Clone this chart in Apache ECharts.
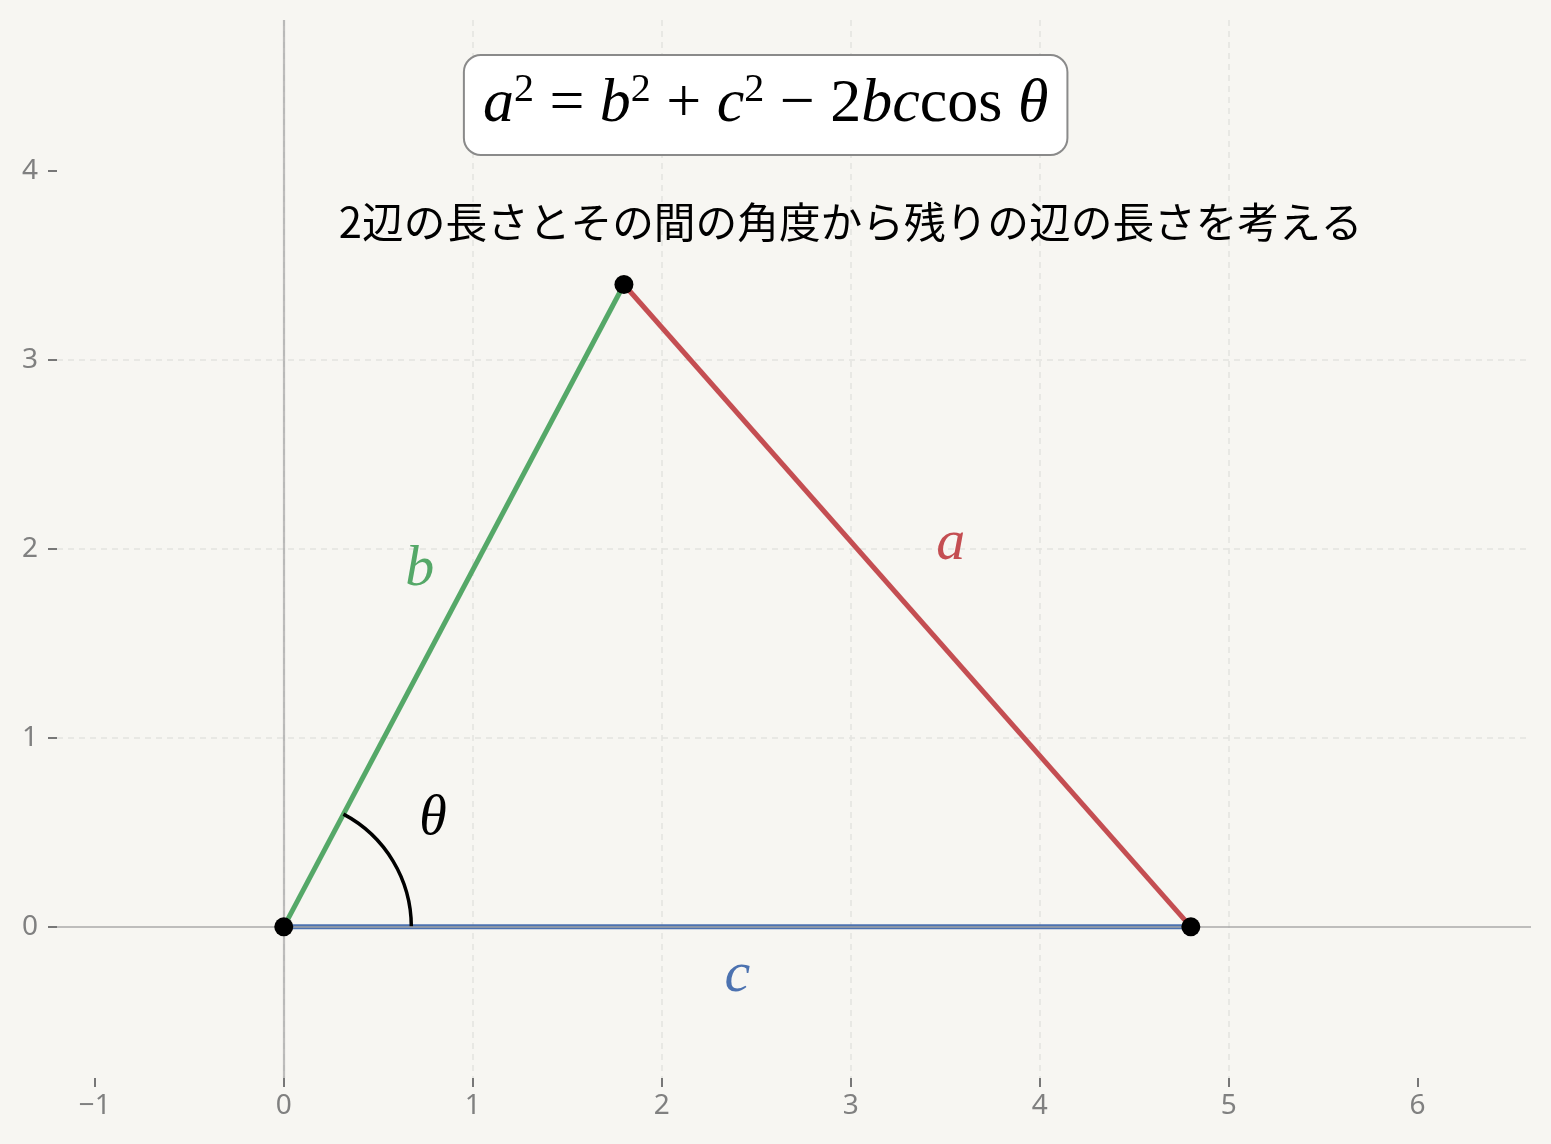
<!DOCTYPE html>
<html><head><meta charset="utf-8">
<script src="https://cdn.jsdelivr.net/npm/echarts@6/dist/echarts.min.js"></script>
<style>html,body{margin:0;padding:0;background:#f7f6f2}#chart{width:1551px;height:1144px}</style>
</head><body><div id="chart"></div>
<script>
// ---- data ----
const pointA = [0, 0];
const pointB = [1.8, 3.4];
const pointC = [4.8, 0];
const xTicks = [-1, 0, 1, 2, 3, 4, 5, 6];
const yTicks = [0, 1, 2, 3, 4];
const xRange = [-1.2, 6.6];
const yRange = [-0.8, 4.8];
const labelAPos = [3.53, 2.03];
const labelBPos = [0.72, 1.89];
const labelCPos = [2.40, -0.26];
const labelThetaPos = [0.79, 0.57];
const arcRadius = 0.675;
const subtitlePos = [3.0, 3.73];
const subtitleText = '2辺の長さとその間の角度から残りの辺の長さを考える';
const formulaPos = [2.55, 4.35];

const theta = Math.atan2(pointB[1] - pointA[1], pointB[0] - pointA[0]);
const mathFont = 'Liberation Serif';
const fmt = v => String(v).replace('-', '\u2212');

const chart = echarts.init(document.getElementById('chart'));

function textPoint(pos, text, labelStyle) {
  return { value: pos, label: Object.assign({ show: true, position: 'inside', formatter: text }, labelStyle) };
}

const splitStyle = { show: true, showMinLine: false, showMaxLine: false, lineStyle: { color: '#e4e3e0', width: 1.5, type: [6, 5] } };

const option = {
  backgroundColor: '#f7f6f2',
  animation: false,
  grid: { left: 57, right: 20, top: 20, bottom: 66, containLabel: false },
  xAxis: {
    type: 'value', min: xRange[0], max: xRange[1],
    axisLine: { show: false, onZero: false },
    axisTick: { show: true, length: 9, customValues: xTicks, lineStyle: { color: '#777', width: 2 } },
    axisLabel: { customValues: xTicks, formatter: fmt, color: '#808080', fontSize: 28, fontFamily: 'Noto Sans', margin: 14 },
    splitLine: splitStyle
  },
  yAxis: {
    type: 'value', min: yRange[0], max: yRange[1],
    axisLine: { show: false, onZero: false },
    axisTick: { show: true, length: 9, customValues: yTicks, lineStyle: { color: '#777', width: 2 } },
    axisLabel: { customValues: yTicks, formatter: fmt, color: '#808080', fontSize: 28, fontFamily: 'Noto Sans', margin: 19 },
    splitLine: splitStyle
  },
  series: [
    { type: 'line', name: 'b', data: [pointA, pointB], symbol: 'none', lineStyle: { color: '#55a868', width: 5 }, z: 2 },
    { type: 'line', name: 'a', data: [pointB, pointC], symbol: 'none', lineStyle: { color: '#c44e52', width: 5 }, z: 2 },
    { type: 'line', name: 'c', data: [pointA, pointC], symbol: 'none', lineStyle: { color: '#4c72b0', width: 5 }, z: 2 },
    {
      type: 'line', name: 'zero', data: [pointA], symbol: 'none', lineStyle: { width: 0 }, z: 3,
      markLine: {
        silent: true, symbol: 'none', label: { show: false },
        lineStyle: { color: 'rgba(165,165,165,0.7)', width: 2.2, type: 'solid' },
        data: [{ xAxis: 0 }, { yAxis: 0 }]
      }
    },
    {
      type: 'custom', name: 'arc', z: 4,
      encode: { x: 0, y: 1 },
      data: [[pointA[0], pointA[1], arcRadius, theta]],
      renderItem: function (params, api) {
        const c = api.coord([api.value(0), api.value(1)]);
        const r = api.size([api.value(2), 0])[0];
        const ang = api.value(3);
        return {
          type: 'arc',
          shape: { cx: c[0], cy: c[1], r: r, startAngle: -ang, endAngle: 0, clockwise: true },
          style: { stroke: '#000', lineWidth: 3.5, fill: null }
        };
      }
    },
    {
      type: 'scatter', name: 'vertices', data: [pointA, pointB, pointC], symbol: 'circle', symbolSize: 19,
      itemStyle: { color: '#000', opacity: 1 }, z: 5
    },
    {
      type: 'scatter', name: 'texts', symbol: 'circle', symbolSize: 1, itemStyle: { color: 'rgba(0,0,0,0)', opacity: 1 }, z: 6,
      data: [
        textPoint(labelAPos, 'a', { color: '#c44e52', fontSize: 58, fontFamily: mathFont, fontStyle: 'italic' }),
        textPoint(labelBPos, 'b', { color: '#55a868', fontSize: 58, fontFamily: mathFont, fontStyle: 'italic' }),
        textPoint(labelCPos, 'c', { color: '#4c72b0', fontSize: 58, fontFamily: mathFont, fontStyle: 'italic' }),
        textPoint(labelThetaPos, 'θ', { color: '#000', fontSize: 56, fontFamily: mathFont, fontStyle: 'italic' }),
        textPoint(subtitlePos, subtitleText, { color: '#000', fontSize: 41.7, fontFamily: 'Noto Sans CJK JP' }),
        textPoint(formulaPos, '{i|a}{s|2}{r| = }{i|b}{s|2}{r| + }{i|c}{s|2}{r| \u2212 2}{i|bc}{r|cos }{i|θ}', {
          backgroundColor: '#ffffff', borderColor: '#8a8a8a', borderWidth: 2, borderRadius: 16,
          padding: [14, 18, 14, 18], lineHeight: 70,
          rich: {
            i: { fontFamily: mathFont, fontStyle: 'italic', fontSize: 62, lineHeight: 70, color: '#000' },
            r: { fontFamily: mathFont, fontSize: 62, lineHeight: 70, color: '#000' },
            s: { fontFamily: mathFont, fontSize: 40, lineHeight: 40, verticalAlign: 'top', color: '#000' }
          }
        })
      ]
    }
  ]
};
chart.setOption(option);
</script>
</body></html>
